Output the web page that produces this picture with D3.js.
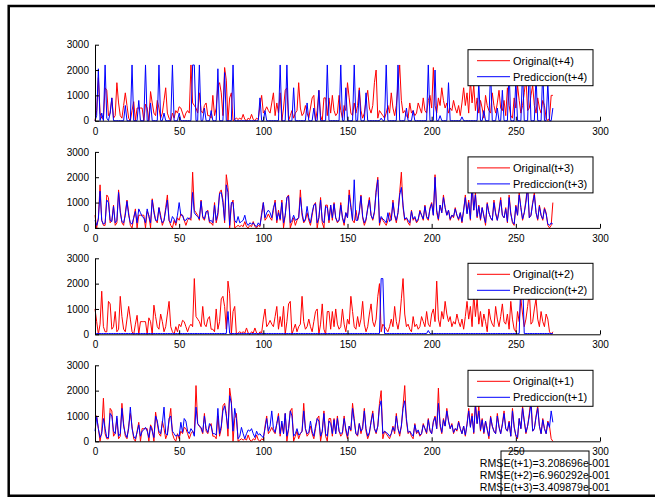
<!DOCTYPE html>
<html><head><meta charset="utf-8">
<script src="https://cdn.jsdelivr.net/npm/d3@7"></script>
<style>body{margin:0;background:#fff}svg{display:block}</style>
</head><body><svg id="c" width="655" height="500"></svg>
<script>
// Original demand series (one step per element); each "Original(t+k)" panel is this series shifted by k
const original = [1000,
1000,500,0,400,1700,300,100,100,1300,1200,
200,300,900,100,200,1500,700,200,100,600,
1100,600,100,0,400,750,0,500,500,500,
500,0,650,500,0,1150,700,300,200,800,
500,100,300,800,1300,300,100,0,300,100,
400,300,550,500,300,100,300,400,300,2200,
700,600,500,300,1100,400,300,600,700,200,
200,100,1000,200,500,1400,1500,1100,200,2100,
1600,0,900,1100,0,50,100,50,100,50,
250,50,0,100,50,250,50,0,100,50,
600,1000,300,400,550,400,300,700,1100,200,
700,300,1100,0,500,1200,1300,0,200,400,
100,300,400,1500,500,200,300,600,300,100,
500,900,1000,0,400,1200,200,0,900,900,
200,900,300,1000,400,200,300,1000,400,100,
600,400,1500,900,300,200,700,300,600,1300,
400,100,300,800,1200,500,300,600,1500,2000,
100,400,300,200,100,300,600,300,1100,500,
200,600,1400,2200,800,300,400,200,100,700,
300,400,200,300,700,500,300,900,400,300,
800,1000,500,2100,600,300,900,600,1300,800,
500,700,300,500,400,800,500,300,600,200,
700,1300,600,1100,300,1600,700,1400,400,900,
300,800,500,100,1000,600,400,300,1100,600,
300,700,1200,500,400,800,200,1300,600,200,
100,900,500,1400,800,300,600,1100,1700,400,
500,1000,1400,600,300,900,500,300,800,600,
100,0,100,
1000,1000];

const predT4 = [
0,200,2050,0,300,0,2200,100,0,300,
900,0,0,0,0,0,0,0,600,0,
0,0,2200,0,0,0,800,0,0,0,
2200,0,0,700,0,0,0,0,2200,0,
0,300,0,0,0,0,2200,0,0,0,
300,0,0,0,0,0,0,0,2200,2200,
0,0,2200,0,0,500,0,0,0,400,
0,0,0,2050,0,0,0,1900,0,0,
0,0,2200,0,0,0,0,0,0,0,
0,0,0,0,0,0,0,0,900,0,
0,400,0,0,0,0,0,0,0,0,
2200,0,0,0,2200,0,0,0,1300,0,
0,0,0,0,0,0,700,0,0,0,
500,0,0,1200,0,0,0,0,2200,0,
0,0,0,0,0,0,2200,0,0,1300,
0,0,0,0,2200,0,0,1200,0,0,
0,1100,0,0,0,0,0,0,0,0,
100,0,0,2200,0,0,0,0,0,0,
2200,0,0,0,0,500,0,0,0,400,
0,0,0,0,0,0,0,0,2200,0,
0,0,2000,0,0,200,0,0,0,0,
1500,0,0,0,0,0,0,0,150,0,
0,0,0,0,0,0,0,0,1500,0,
0,400,0,0,0,2000,0,0,0,500,
0,0,1200,0,0,0,2000,0,0,0,
1600,0,0,0,2000,0,0,0,2200,0,
0,0,1800,0,0,0,2000,0,0,1500,
0,0,500];

const predT3 = [
300,100,350,1450,300,150,200,1100,1000,300,
250,850,200,300,1400,600,250,200,500,1050,
500,200,150,400,650,200,750,600,450,400,
200,750,450,200,1100,600,300,300,800,400,
200,300,700,1100,300,200,450,350,200,500,
1000,500,500,300,300,400,350,400,1400,600,
500,450,350,1050,450,350,650,650,250,300,
200,900,300,600,1350,1400,1000,300,1700,1400,
100,1000,1000,300,200,450,200,250,300,500,
200,100,200,150,200,100,50,200,100,500,
1000,400,600,700,600,400,800,1000,300,600,
350,1000,200,500,1200,1250,200,300,500,300,
350,400,1200,600,250,350,850,400,200,600,
900,950,200,400,1100,300,200,850,800,300,
900,400,950,400,250,300,900,400,200,600,
400,1300,800,300,1900,300,300,650,1250,450,
200,350,750,1100,500,350,650,1400,1900,200,
450,350,300,200,600,250,350,1000,500,300,
600,1300,1600,900,350,400,300,200,650,350,
450,250,350,650,500,350,850,450,350,750,
950,500,2000,700,350,900,600,1200,800,500,
700,350,500,450,750,500,350,600,250,700,
1200,550,1000,350,1800,700,1300,450,850,350,
800,450,200,950,600,400,300,1000,550,300,
650,1100,500,400,750,250,1200,550,250,150,
850,500,1300,800,350,600,1000,1600,400,500,
950,1300,600,350,850,500,350,750,550,150,
100,200,150];

const predT2 = [
30,30,30,30,30,30,30,30,30,30,
30,30,30,30,30,30,30,30,30,30,
30,30,30,30,30,30,30,30,30,30,
30,30,30,30,30,30,30,30,30,30,
30,30,30,30,30,30,30,30,30,30,
30,30,30,30,30,30,30,30,30,30,
30,30,30,30,30,30,30,30,30,30,
30,30,30,30,30,30,30,30,30,900,
30,30,30,30,30,30,30,30,30,30,
30,30,30,30,30,30,30,30,30,30,
30,30,30,30,30,30,30,30,30,30,
30,30,30,30,30,30,30,30,30,30,
30,30,30,30,30,30,30,30,30,30,
30,30,30,30,30,30,30,30,30,30,
30,30,30,30,30,30,30,30,30,30,
30,30,30,30,30,30,30,30,30,30,
30,30,30,30,30,30,30,30,30,30,
2200,2200,30,30,30,30,30,30,30,30,
30,30,30,30,30,30,30,30,30,30,
30,30,30,30,30,30,30,30,150,30,
30,30,30,30,30,30,30,30,30,30,
30,30,30,30,30,30,30,30,30,30,
30,30,30,30,30,30,30,30,30,30,
30,30,30,30,30,30,30,30,30,30,
30,30,30,30,30,30,30,30,30,30,
30,30,30,2200,2200,30,30,30,30,30,
30,30,30,30,30,30,30,30,30,30,
30,30,30];

const predT1 = [
400,950,500,150,300,900,500,150,150,1100,
1000,400,300,1000,200,300,1300,600,300,150,
500,1350,500,200,100,350,650,200,400,450,
550,400,150,600,400,150,1000,800,400,300,
700,1350,300,250,900,1000,400,300,200,250,
200,750,350,900,800,400,300,500,400,200,
1350,700,600,550,350,1000,500,350,700,600,
300,300,250,1300,300,600,1200,1400,1000,500,
1800,1500,400,1300,900,100,200,550,300,100,
300,450,400,500,300,150,400,250,300,200,
150,500,900,400,600,1200,500,350,700,1000,
300,800,300,1100,200,500,1200,1000,200,300,
500,250,300,400,1200,500,300,350,800,400,
200,600,900,800,200,400,1100,300,200,800,
700,300,850,300,900,400,300,350,900,500,
200,600,450,1300,800,300,250,700,400,500,
1200,500,200,350,750,1100,500,350,600,1350,
1600,300,400,350,300,200,300,550,400,1000,
500,300,600,1300,1600,900,350,400,300,200,
650,350,450,250,300,650,500,350,850,450,
300,750,950,500,1500,700,350,850,600,1200,
800,500,650,350,500,450,750,500,300,600,
250,650,1200,550,1000,350,1400,700,1200,450,
850,350,800,450,200,950,600,400,300,1000,
550,300,650,1100,500,400,750,200,1200,550,
250,150,900,500,1300,800,350,600,1000,1500,
400,500,950,1300,600,300,850,500,300,750,
550,1200,750];

const origT4 = original.slice(3, 276);
const origT3 = original.slice(2, 275);
const origT2 = original.slice(1, 274);
const origT1 = original.slice(0, 273);

const xTicks = [0, 50, 100, 150, 200, 250, 300];
const yTicks = [0, 1000, 2000, 3000];
const origLabels = ["Original(t+4)", "Original(t+3)", "Original(t+2)", "Original(t+1)"];
const predLabels = ["Prediccion(t+4)", "Prediccion(t+3)", "Prediccion(t+2)", "Prediccion(t+1)"];
const rmseLabels = ["RMSE(t+1)=3.208696e-001", "RMSE(t+2)=6.960292e-001", "RMSE(t+3)=3.409879e-001"];

const origSeries = [origT4, origT3, origT2, origT1];
const predSeries = [predT4, predT3, predT2, predT1];

const svg = d3.select("#c");
const FONT = "'Liberation Sans', Arial, Helvetica, sans-serif";

// figure frame
svg.append("path").attr("d", "M655,6 H8.7 V495.7 H655")
  .attr("fill", "none").attr("stroke", "#000").attr("stroke-width", 2.5);

const L = 95, R = 600, H = 76;
const tops = [44.7, 151.9, 258.3, 365.3];
const x = d3.scaleLinear().domain([0, 300]).range([L, R]);

tops.forEach((top, k) => {
  const y = d3.scaleLinear().domain([0, 3000]).range([top + H, top]);
  const g = svg.append("g");
  const line = d3.line().x((d, i) => x(i)).y(d => y(d));

  g.append("path").datum(origSeries[k]).attr("d", line)
    .attr("fill", "none").attr("stroke", "#ff0000").attr("stroke-width", 1).attr("stroke-linejoin", "round");
  g.append("path").datum(predSeries[k]).attr("d", line)
    .attr("fill", "none").attr("stroke", "#0000ff").attr("stroke-width", 1).attr("stroke-linejoin", "round");

  // axes (MATLAB style, ticks inward)
  const xa = g.append("g").attr("transform", `translate(0,${top + H})`)
    .call(d3.axisBottom(x).tickValues(xTicks).tickFormat(d3.format("d")).tickSizeInner(-4).tickSizeOuter(0).tickPadding(7));
  const ya = g.append("g").attr("transform", `translate(${L},0)`)
    .call(d3.axisLeft(y).tickValues(yTicks).tickFormat(d3.format("d")).tickSizeInner(-4).tickSizeOuter(0).tickPadding(6));
  [xa, ya].forEach(a => {
    a.select(".domain").attr("stroke", "#000").attr("stroke-width", 1);
    a.selectAll(".tick line").attr("stroke", "#000");
    a.selectAll("text").attr("font-family", FONT).attr("font-size", 10).attr("fill", "#000");
  });

  // legend
  const lx = 468, ly = top + 5;
  const lg = g.append("g");
  lg.append("rect").attr("x", lx).attr("y", ly).attr("width", 125).attr("height", 36)
    .attr("fill", "#fff").attr("stroke", "#000").attr("stroke-width", 1);
  [[origLabels[k], "#ff0000", 11], [predLabels[k], "#0000ff", 27]].forEach(([t, c, dy]) => {
    lg.append("line").attr("x1", lx + 9).attr("x2", lx + 42).attr("y1", ly + dy).attr("y2", ly + dy)
      .attr("stroke", c).attr("stroke-width", 1);
    lg.append("text").attr("x", lx + 45).attr("y", ly + dy + 4)
      .attr("font-family", FONT).attr("font-size", 11).attr("fill", "#000").text(t);
  });
});

// RMSE annotation box
svg.append("rect").attr("x", 501).attr("y", 451).attr("width", 88).attr("height", 45)
  .attr("fill", "none").attr("stroke", "#000").attr("stroke-width", 1);
rmseLabels.forEach((t, i) => {
  svg.append("text").attr("x", 610).attr("y", 467 + i * 12.2).attr("text-anchor", "end")
    .attr("font-family", FONT).attr("font-size", 10.6).attr("fill", "#000").text(t);
});
</script></body></html>
